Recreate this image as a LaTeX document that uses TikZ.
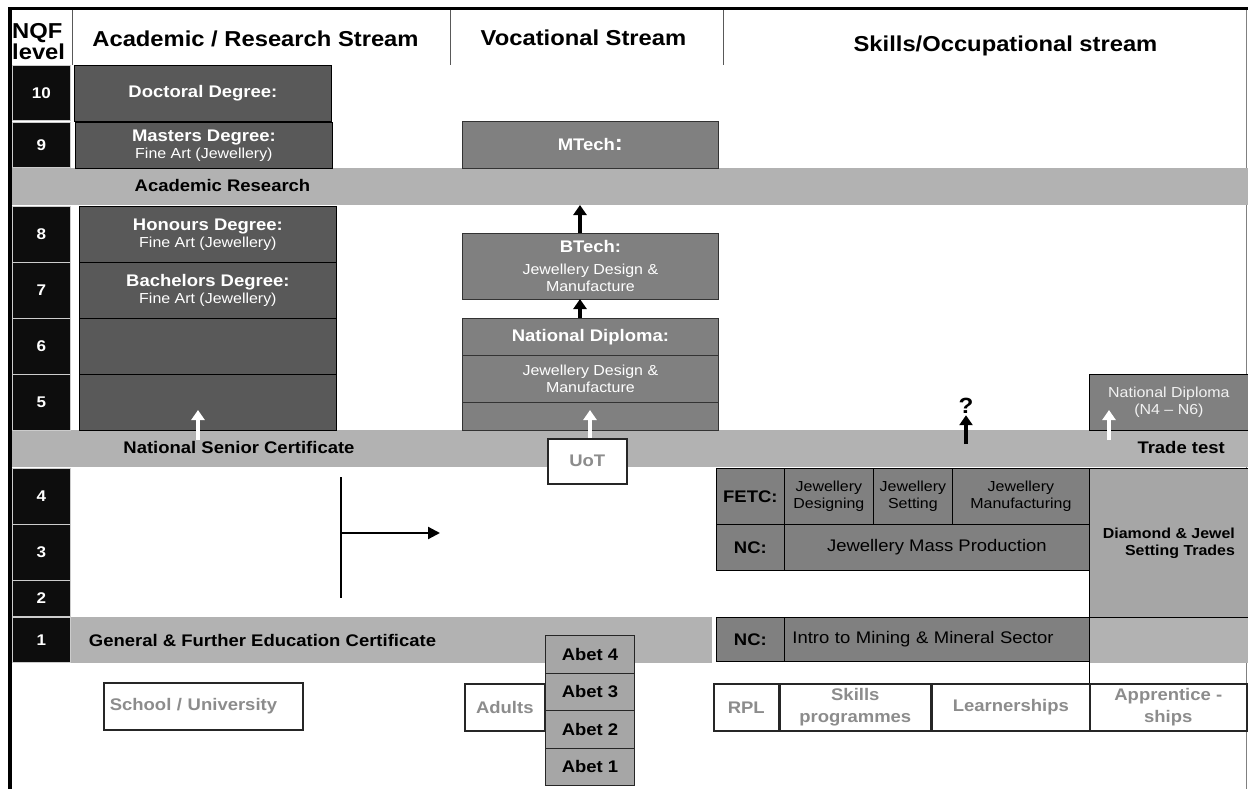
\documentclass[tikz,border=0pt]{standalone}
\usepackage{fontspec}
\setmainfont{Liberation Sans}[FakeStretch=1.1]
\usetikzlibrary{arrows.meta}
\definecolor{acgrey}{RGB}{89,89,89}
\definecolor{vocgrey}{RGB}{128,128,128}
\definecolor{bandgrey}{RGB}{178,178,178}
\definecolor{tradegrey}{RGB}{166,166,166}
\definecolor{lvlblack}{RGB}{13,13,13}
\definecolor{labelgrey}{RGB}{140,140,140}
\newcommand{\headfont}{\fontsize{21.6}{21}\selectfont\bfseries}
\newcommand{\titlefont}{\fontsize{16.8}{19}\selectfont\bfseries}
\newcommand{\plainfont}{\fontsize{16.8}{19}\selectfont\mdseries}
\newcommand{\smallfont}{\fontsize{14.5}{17}\selectfont\mdseries}
\newcommand{\levelfont}{\fontsize{15.5}{17}\selectfont\bfseries}

\begin{document}
\begin{tikzpicture}[x=1pt,y=-1pt,
    txt/.style={inner sep=0pt},
    cell/.style={rectangle, inner sep=0pt, anchor=north west, align=center},
    lvl/.style={cell, fill=lvlblack, draw=white!80!black, line width=0.8pt, minimum width=58pt, text=white, font=\levelfont},
    acbox/.style={cell, fill=acgrey, draw=black, line width=0.8pt, minimum width=257pt, text=white, font=\smallfont},
    vocbox/.style={cell, fill=vocgrey, draw=black!80, line width=0.8pt, minimum width=256pt, text=white, font=\smallfont},
    occbox/.style={cell, fill=vocgrey, draw=black, line width=0.8pt, text=black, font=\smallfont},
    band/.style={cell, fill=bandgrey, minimum height=37pt},
    route/.style={cell, fill=white, draw=black!85, line width=1.6pt, minimum height=47pt, text=labelgrey, font=\titlefont},
    abet/.style={cell, fill=tradegrey, draw=black!85, line width=1pt, minimum width=89pt, minimum height=37.5pt, font=\titlefont},
    uparrow/.style={line width=4.5pt, -{Triangle[width=13pt,length=10pt]}}]
    % Page and frame
    \fill[white] (0,0) rectangle (1248,789);
    \useasboundingbox (0,0) rectangle (1248,789);
    \draw[line width=3.5pt] (8,8.5) -- (1248,8.5);
    \draw[line width=3.5pt] (10,8) -- (10,789);
    \draw[gray] (1246.5,10) -- (1246.5,789);
    \draw[gray!70!black, line width=0.8pt] (72,10) -- (72,65);
    \draw[gray!70!black, line width=0.8pt] (450,10) -- (450,65);
    \draw[gray!70!black, line width=0.8pt] (723,10) -- (723,65);
    % Headings
    \node[txt, font=\headfont, anchor=north west, align=left] (nqf) at (12,23) {NQF\\level};
    \node[txt, font=\headfont, anchor=base] (achead) at (255.5,47) {Academic / Research Stream};
    \node[txt, font=\headfont, anchor=base] (vochead) at (583.5,46) {Vocational Stream};
    \node[txt, font=\headfont, anchor=base] (occhead) at (1005.5,52) {Skills/Occupational stream};
    % Bands
    \node[band, minimum width=1236pt] (acres) at (12,168) {};
    \node[band, minimum width=1236pt] (nsc) at (12,430) {};
    \node[band, minimum width=642pt, minimum height=46pt] (gfet) at (70,617) {};
    \node[band, minimum width=159pt, minimum height=46pt] (trband) at (1089,617) {};
    \node[txt, font=\titlefont, anchor=base] (acrestxt) at (222.5,191.5) {Academic Research};
    \node[txt, font=\titlefont, anchor=base] (nsctxt) at (239,453) {National Senior Certificate};
    \node[txt, font=\titlefont, anchor=base east] (tradetxt) at (1225,453) {Trade test};
    \node[txt, font=\titlefont, anchor=base] (gfettxt) at (262.5,646) {General \& Further Education Certificate};
    % NQF levels
    \node[lvl, minimum height=55pt] (lv10) at (12,65) {10};
    \node[lvl, minimum height=45pt] (lv9) at (12,122) {9};
    \node[lvl, minimum height=56pt] (lv8) at (12,206) {8};
    \node[lvl, minimum height=56pt] (lv7) at (12,262) {7};
    \node[lvl, minimum height=56pt] (lv6) at (12,318) {6};
    \node[lvl, minimum height=56pt] (lv5) at (12,374) {5};
    \node[lvl, minimum height=56pt] (lv4) at (12,468) {4};
    \node[lvl, minimum height=56pt] (lv3) at (12,524) {3};
    \node[lvl, minimum height=36pt] (lv2) at (12,580) {2};
    \node[lvl, minimum height=45pt] (lv1) at (12,617) {1};
    % Academic stream
    \node[acbox, minimum height=56pt, font=\titlefont] (doc) at (74,65) {Doctoral Degree:};
    \node[acbox, minimum height=46pt] (mast) at (75,122) {{\titlefont Masters Degree:}\\Fine Art (Jewellery)};
    \node[acbox, minimum height=56pt] (hon) at (79,206) {{\titlefont Honours Degree:}\\Fine Art (Jewellery)};
    \node[acbox, minimum height=56pt] (bach) at (79,262) {{\titlefont Bachelors Degree:}\\Fine Art (Jewellery)};
    \node[acbox, minimum height=56pt] (ac6) at (79,318) {};
    \node[acbox, minimum height=56pt] (ac5) at (79,374) {};
    % Vocational stream
    \node[vocbox, minimum height=47pt, font=\titlefont] (mtech) at (462,121) {MTech{\fontsize{22}{22}\selectfont :}};
    \node[vocbox, minimum height=66pt] (btech) at (462,233) {{\titlefont BTech:}\\[5pt]Jewellery Design \&\\Manufacture};
    \node[vocbox, minimum height=37pt, font=\titlefont] (ndtop) at (462,318) {National Diploma:};
    \node[vocbox, minimum height=47pt] (ndmid) at (462,355) {Jewellery Design \&\\Manufacture};
    \node[vocbox, minimum height=28pt] (ndbot) at (462,402) {};
    \node[cell, fill=white, draw=black!85, line width=1.6pt, minimum width=79pt, minimum height=45pt, text=labelgrey, font=\titlefont] (uot) at (547,438) {UoT};
    % Skills / occupational stream
    \node[occbox, minimum width=159pt, minimum height=56pt, text=white!95!black] (nddip) at (1089,374) {National Diploma\\(N4 – N6)};
    \node[occbox, minimum width=68pt, minimum height=56pt, font=\titlefont] (fetc) at (716,468) {FETC:};
    \node[occbox, minimum width=89pt, minimum height=56pt] (jdes) at (784,468) {Jewellery\\Designing};
    \node[occbox, minimum width=79pt, minimum height=56pt] (jset) at (873,468) {Jewellery\\Setting};
    \node[occbox, minimum width=137pt, minimum height=56pt] (jman) at (952,468) {Jewellery\\Manufacturing};
    \node[occbox, minimum width=68pt, minimum height=46pt, font=\titlefont] (nca) at (716,524) {NC:};
    \node[occbox, minimum width=305pt, minimum height=46pt, font=\plainfont] (jmp) at (784,524) {Jewellery Mass Production};
    \node[occbox, fill=tradegrey, minimum width=159pt, minimum height=149pt, font=\smallfont\bfseries, align=right] (diam) at (1089,468) {Diamond \& Jewel\\Setting Trades};
    \node[occbox, minimum width=68pt, minimum height=44pt, font=\titlefont] (ncb) at (716,617) {NC:};
    \node[occbox, minimum height=44pt, text width=289pt, inner xsep=8pt, align=left, font=\plainfont] (mining) at (784,617) {Intro to Mining \& Mineral Sector};
    \draw[line width=0.8pt] (diam.south west) -- (1089,683);
    % Routes
    \node[route, text width=187pt, inner xsep=6pt, align=left] (school) at (103,682) {School / University};
    \node[route, minimum width=80pt] (adults) at (464,683) {Adults};
    \node[abet] (abet4) at (545,635) {Abet 4};
    \node[abet] (abet3) at (545,672.5) {Abet 3};
    \node[abet] (abet2) at (545,710) {Abet 2};
    \node[abet] (abet1) at (545,747.5) {Abet 1};
    \node[route, minimum width=65pt] (rpl) at (713,683) {RPL};
    \node[route, minimum width=151pt] (skills) at (779,683) {Skills\\[3pt]programmes};
    \node[route, minimum width=158pt] (learn) at (931,683) {Learnerships};
    \node[route, minimum width=157pt] (appr) at (1089,683) {Apprentice -\\[3pt]ships};
    % Progression arrows
    \coordinate (acTail) at (198,440);
    \coordinate (acTip) at (198,410);
    \coordinate (btTail) at (580,233);
    \coordinate (btTip) at (580,205);
    \coordinate (ndTail) at (580,318);
    \coordinate (ndTip) at (580,299);
    \coordinate (uotTail) at (590,438);
    \coordinate (uotTip) at (590,410);
    \coordinate (qTail) at (966,444);
    \coordinate (trTail) at (1109,440);
    \coordinate (trTip) at (1109,410);
    \node[txt, font=\fontsize{22}{22}\selectfont\bfseries, anchor=base] (qmark) at (966,413) {?};
    \draw[uparrow, white] (acTail) -- (acTip);
    \draw[uparrow, white] (uotTail) -- (uotTip);
    \draw[uparrow, white] (trTail) -- (trTip);
    \draw[uparrow] (btTail) -- (btTip);
    \draw[uparrow] (ndTail) -- (ndTip);
    \draw[uparrow] (qTail) -- ([yshift=-2pt]qmark.south);
    % Side step
    \coordinate (lTop) at (341,477);
    \coordinate (lBot) at (341,598);
    \coordinate (lMid) at (341,533);
    \coordinate (lEnd) at (440,533);
    \draw[line width=1.2pt] (lTop) -- (lBot);
    \draw[line width=2.2pt, -{Triangle[width=12pt,length=12pt]}] (lMid) -- (lEnd);
\end{tikzpicture}
\end{document}
